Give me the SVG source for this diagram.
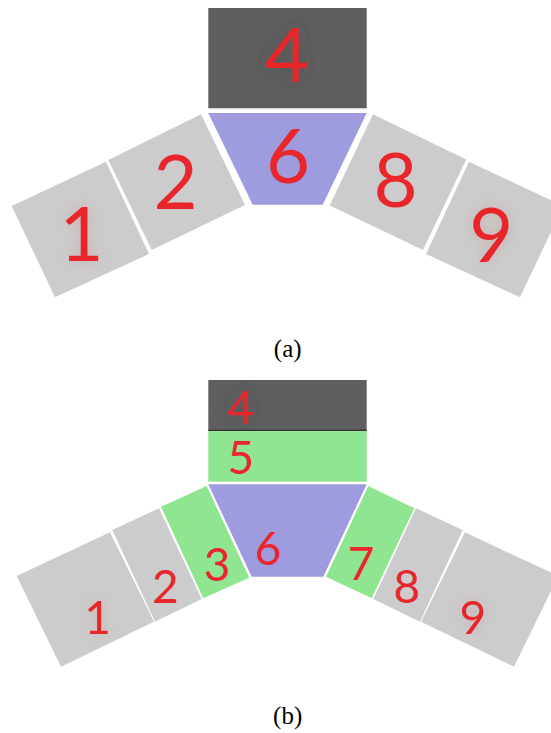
<svg xmlns="http://www.w3.org/2000/svg" width="551" height="733" viewBox="0 0 551 733">
<style>
.grey{fill:#cccccc}
.dark{fill:#5f5f5f}
.purple{fill:#9e9bde}
.green{fill:#90e590}
.num{fill:#e8262c;font-family:"Lato","Liberation Sans",sans-serif;text-anchor:middle}
.big{font-size:76px}
.small{font-size:46px}
.cap{fill:#000;font-family:"Liberation Serif",serif;font-size:25px;text-anchor:middle}
</style>
<defs>
<filter id="glowR" x="-60%" y="-40%" width="220%" height="180%">
<feGaussianBlur in="SourceAlpha" stdDeviation="7" result="b"/>
<feFlood flood-color="#c87070" flood-opacity="0.35"/>
<feComposite in2="b" operator="in" result="g"/>
<feMerge><feMergeNode in="g"/><feMergeNode in="SourceGraphic"/></feMerge>
</filter>
<filter id="glowD" x="-80%" y="-50%" width="260%" height="200%">
<feGaussianBlur in="SourceAlpha" stdDeviation="9" result="b"/>
<feFlood flood-color="#3a3a3a" flood-opacity="0.35"/>
<feComposite in2="b" operator="in" result="g"/>
<feMerge><feMergeNode in="g"/><feMergeNode in="SourceGraphic"/></feMerge>
</filter>
</defs>
<rect width="551" height="733" fill="#ffffff"/>
<g id="connectors"/>
<!-- (a) -->
<g id="a-node4"><rect class="dark" x="208.3" y="8" width="158.4" height="100.3"/><text class="num big" x="287" y="81.7" filter="url(#glowD)">4</text></g>
<g id="a-node6"><polygon class="purple" points="208.3,113 366.7,113 322.7,204.7 252.7,204.7"/><text class="num big" x="288" y="182.7">6</text></g>
<g id="a-node1"><polygon class="grey" points="11.7,206 106,161.7 149,254 55,297.3"/><text class="num big" x="81.5" y="260.7" filter="url(#glowR)">1</text></g>
<g id="a-node2"><polygon class="grey" points="108.3,160 201,114.3 245,205 151.7,250"/><text class="num big" x="175.5" y="209.3">2</text></g>
<g id="a-node8"><polygon class="grey" points="373,114.3 466.2,159.6 423,250 329.7,205.5"/><text class="num big" x="395.5" y="206.7">8</text></g>
<g id="a-node9"><polygon class="grey" points="469,161.7 563.3,206 520,297.3 426,254"/><text class="num big" x="491.3" y="261.7" filter="url(#glowR)">9</text></g>
<text class="cap" x="287.7" y="357">(a)</text>
<!-- (b) -->
<g id="b-node4"><rect class="dark" x="208.3" y="380" width="158.4" height="50.7"/><rect x="208.3" y="429.7" width="158.4" height="1.5" fill="#333"/><text class="num small" x="240.8" y="424" filter="url(#glowD)">4</text></g>
<g id="b-node5"><rect class="green" x="208.3" y="431.2" width="158.4" height="50.5"/><text class="num small" x="240.8" y="474">5</text></g>
<g id="b-node6"><polygon class="purple" points="208.3,484.3 366.7,484.3 323.3,576.7 251.7,576.7"/><text class="num small" x="268" y="565">6</text></g>
<g id="b-node3"><polygon class="green" points="161,506.7 206.7,486 249.3,577.7 203.3,598.3"/><text class="num small" x="217" y="580.5">3</text></g>
<g id="b-node2"><polygon class="grey" points="112.3,530 159,508.3 201.7,599 155,621.7"/><text class="num small" x="165.3" y="603.3">2</text></g>
<g id="b-node1"><polygon class="grey" points="16.7,576 110,532.3 154,621.7 61,666.7"/><text class="num small" x="97.5" y="634" filter="url(#glowR)">1</text></g>
<g id="b-node7"><polygon class="green" points="368.3,486 414.3,508.3 371.7,598.3 326,576.7"/><text class="num small" x="361" y="580">7</text></g>
<g id="b-node8"><polygon class="grey" points="416,508.3 462.7,530 420,621.7 373.3,599"/><text class="num small" x="406.8" y="603.3">8</text></g>
<g id="b-node9"><polygon class="grey" points="465,532.3 558.3,576 514,666.7 421,621.7"/><text class="num small" x="472.8" y="634" filter="url(#glowR)">9</text></g>
<text class="cap" x="287.7" y="724">(b)</text>
</svg>
